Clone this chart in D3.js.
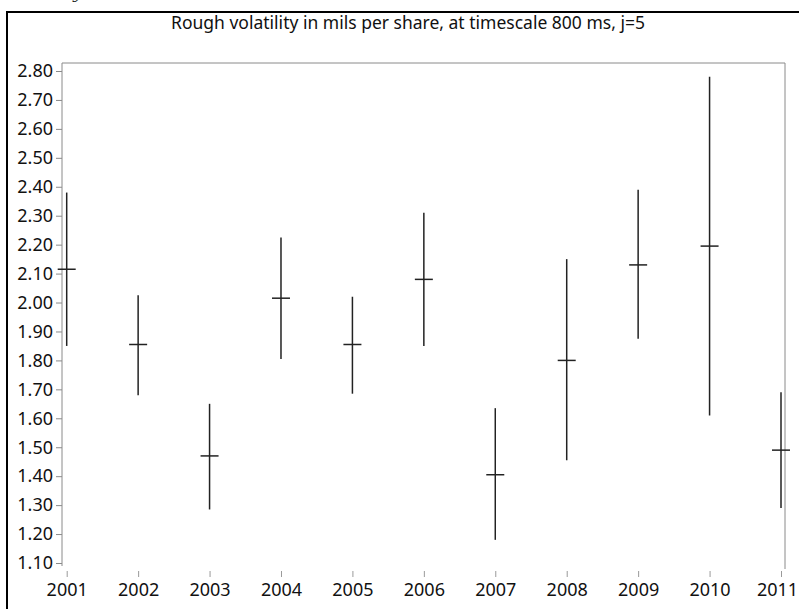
<!DOCTYPE html>
<html lang="en">
<head>
    <meta charset="UTF-8">
    <title>Rough volatility</title>
    <script src="https://cdn.jsdelivr.net/npm/d3@7"></script>
    <style>
        body { margin: 0; background: #fff; }
        text { font-family: "Noto Sans", "Open Sans", sans-serif; fill: #111; }
    </style>
</head>
<body>
    <script>
        //width and height
        var w = 799;
        var h = 609;

        //data
        var years = [2001, 2002, 2003, 2004, 2005, 2006, 2007, 2008, 2009, 2010, 2011];
        var mids  = [2.115, 1.855, 1.47, 2.015, 1.855, 2.08, 1.405, 1.80, 2.13, 2.195, 1.49];
        var highs = [2.38, 2.025, 1.65, 2.225, 2.02, 2.31, 1.635, 2.15, 2.39, 2.78, 1.69];
        var lows  = [1.85, 1.68, 1.285, 1.805, 1.685, 1.85, 1.18, 1.455, 1.875, 1.61, 1.29];
        var yTicks = [1.10, 1.20, 1.30, 1.40, 1.50, 1.60, 1.70, 1.80, 1.90, 2.00,
                      2.10, 2.20, 2.30, 2.40, 2.50, 2.60, 2.70, 2.80];
        var title = 'Rough volatility in mils per share, at timescale 800 ms, j=5';

        //scales
        var xScale = d3.scaleLinear()
                        .domain([2001, 2011])
                        .range([66.7, 781]);
        var yScale = d3.scaleLinear()
                        .domain([1.10, 2.80])
                        .range([563, 71]);

        var plotLeft = 62, plotRight = 785, plotTop = 63, plotBottom = 566;

        //svg
        var svg = d3.select('body')
                    .append('svg')
                    .attr('width', w)
                    .attr('height', h);

        //outer frame (cut off at right and bottom)
        svg.append('rect')
            .attr('x', 7).attr('y', 12)
            .attr('width', 900).attr('height', 700)
            .attr('fill', 'none')
            .attr('stroke', '#000')
            .attr('stroke-width', 2);

        //clipped glyph at the very top
        svg.append('text')
            .attr('x', 73).attr('y', -1)
            .attr('font-size', '15px')
            .style('font-family', 'DejaVu Serif, serif')
            .style('font-style', 'italic')
            .text('y');

        //title
        svg.append('text')
            .attr('x', 408).attr('y', 29)
            .attr('text-anchor', 'middle')
            .attr('font-size', '17.5px')
            .text(title);

        //plot box: left, top and right sides
        svg.append('path')
            .attr('d', 'M' + plotLeft + ',' + plotBottom + 'V' + plotTop + 'H' + plotRight + 'V' + (plotBottom + 3))
            .attr('fill', 'none')
            .attr('stroke', '#8a8a8a')
            .attr('stroke-width', 1);

        //y axis
        var yAxis = d3.axisLeft(yScale)
                        .tickValues(yTicks)
                        .tickSizeInner(6)
                        .tickSizeOuter(0)
                        .tickPadding(3)
                        .tickFormat(d3.format('.2f'));
        var gy = svg.append('g')
            .attr('transform', 'translate(' + plotLeft + ',0)')
            .call(yAxis);
        gy.select('.domain').remove();
        gy.selectAll('line').attr('stroke', '#8a8a8a');
        gy.selectAll('text')
            .attr('font-size', '18px')
            .attr('fill', '#111')
            .style('font-family', '"Noto Sans", sans-serif');

        //x axis
        var xAxis = d3.axisBottom(xScale)
                        .tickValues(years)
                        .tickSizeInner(6)
                        .tickSizeOuter(0)
                        .tickPadding(6)
                        .tickFormat(d3.format('d'));
        var gx = svg.append('g')
            .attr('transform', 'translate(0,571)')
            .call(xAxis);
        gx.select('.domain').remove();
        gx.selectAll('line').attr('stroke', '#9a9a9a');
        gx.selectAll('text')
            .attr('font-size', '18px')
            .attr('fill', '#111')
            .style('font-family', '"Noto Sans", sans-serif');
        //last label sits a little left so it stays inside the page
        gx.selectAll('text')
            .filter(function(d) { return d === years[years.length - 1]; })
            .attr('dx', -4);

        //error bars
        var bars = svg.selectAll('g.bar')
            .data(years)
            .enter()
            .append('g')
            .attr('class', 'bar');

        bars.append('line')
            .attr('x1', function(d) { return xScale(d); })
            .attr('x2', function(d) { return xScale(d); })
            .attr('y1', function(d, i) { return yScale(highs[i]); })
            .attr('y2', function(d, i) { return yScale(lows[i]); })
            .attr('stroke', '#222')
            .attr('stroke-width', 1.5);

        bars.append('line')
            .attr('x1', function(d) { return xScale(d) - 9; })
            .attr('x2', function(d) { return xScale(d) + 9; })
            .attr('y1', function(d, i) { return yScale(mids[i]); })
            .attr('y2', function(d, i) { return yScale(mids[i]); })
            .attr('stroke', '#222')
            .attr('stroke-width', 1.5);
    </script>
</body>
</html>
